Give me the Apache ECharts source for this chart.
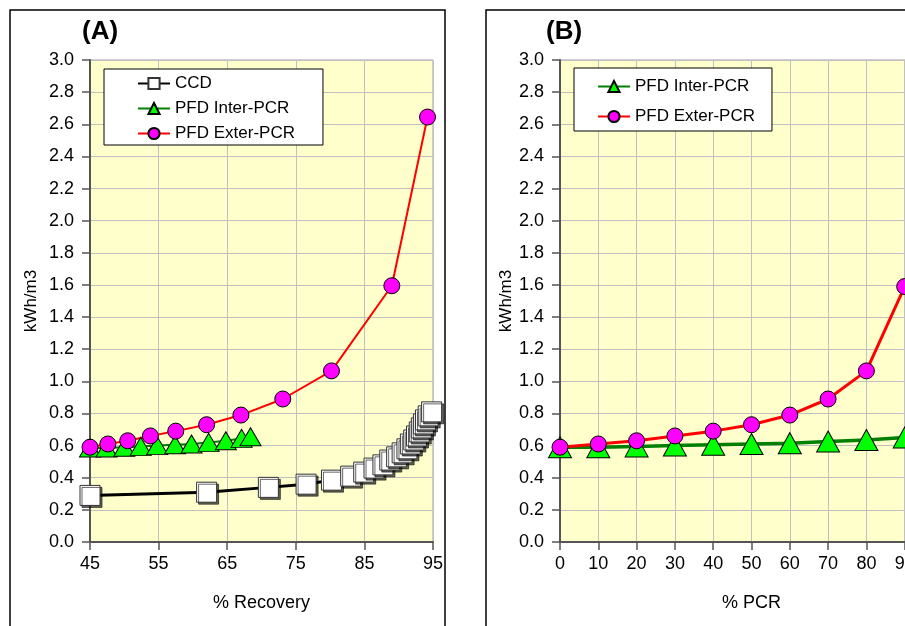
<!DOCTYPE html>
<html>
<head>
<meta charset="utf-8">
<script src="https://cdn.jsdelivr.net/npm/echarts@6/dist/echarts.min.js"></script>
<style>
  html, body { margin: 0; padding: 0; background: #fff; }
  #chart { width: 905px; height: 626px; }
</style>
</head>
<body>
<div id="chart"></div>
<script>
// panel (A): energy vs % recovery
var ccdRecovery = [45, 62, 71, 76.5, 80.2, 83, 84.9, 86.4, 87.7, 88.7, 89.7, 90.5, 91.2, 91.7, 92.2, 92.6, 93.0, 93.3, 93.6, 93.9, 94.3, 94.8];
var ccdEnergy = [0.29, 0.31, 0.34, 0.36, 0.385, 0.41, 0.435, 0.46, 0.48, 0.51, 0.53, 0.555, 0.58, 0.61, 0.635, 0.66, 0.685, 0.71, 0.735, 0.76, 0.785, 0.81];

var interRecovery = [45, 47.4, 50, 52.4, 54.8, 57.4, 59.8, 62.3, 64.8, 67.1, 68.4];
var interEnergyA = [0.585, 0.585, 0.59, 0.595, 0.6, 0.605, 0.61, 0.62, 0.63, 0.645, 0.655];

var exterRecovery = [45, 47.6, 50.5, 53.8, 57.5, 62.0, 67.0, 73.1, 80.2, 89.0, 94.2];
var exterEnergyA = [0.59, 0.61, 0.63, 0.66, 0.69, 0.73, 0.79, 0.89, 1.065, 1.595, 2.645];

// panel (B): energy vs % PCR
var pcr = [0, 10, 20, 30, 40, 50, 60, 70, 80, 90, 100];
var interEnergyB = [0.59, 0.59, 0.595, 0.6, 0.605, 0.61, 0.615, 0.625, 0.635, 0.65, 0.665];
var exterEnergyB = [0.59, 0.61, 0.63, 0.66, 0.69, 0.73, 0.79, 0.89, 1.065, 1.59, 2.64];

function zip(xs, ys) {
  var out = [];
  for (var i = 0; i < xs.length; i++) out.push([xs[i], ys[i]]);
  return out;
}

var font = "'Liberation Sans', Arial, sans-serif";
var axisDark = '#555';

function yAxisFor(gridIndex, gap) {
  return {
    type: 'value',
    gridIndex: gridIndex,
    min: 0, max: 3, interval: 0.2,
    name: 'kWh/m3',
    nameLocation: 'middle',
    nameGap: gap,
    nameTextStyle: { fontFamily: font, fontSize: 17, color: '#000' },
    axisLine: { show: true, lineStyle: { color: axisDark, width: 2 } },
    axisTick: { show: true, length: 8, lineStyle: { color: axisDark, width: 1.5 } },
    axisLabel: {
      margin: 16, fontFamily: font, fontSize: 18, color: '#000',
      formatter: function (v) { return v.toFixed(1); }
    },
    splitLine: { show: true, lineStyle: { color: '#c0c0c0', width: 1 } }
  };
}

function xAxisFor(gridIndex, min, max, name) {
  return {
    type: 'value',
    gridIndex: gridIndex,
    min: min, max: max, interval: 10,
    name: name,
    nameLocation: 'middle',
    nameGap: 52,
    nameTextStyle: { fontFamily: font, fontSize: 18, color: '#000' },
    axisLine: { show: true, onZero: false, lineStyle: { color: axisDark, width: 2 } },
    axisTick: { show: true, length: 8, lineStyle: { color: axisDark, width: 1.5 } },
    axisLabel: { margin: 13, fontFamily: font, fontSize: 18, color: '#000' },
    splitLine: { show: true, lineStyle: { color: '#c0c0c0', width: 1 } }
  };
}

var squareStyle = {
  color: '#fff', borderColor: '#333', borderWidth: 1,
  shadowColor: 'rgba(0,0,0,0.6)', shadowOffsetX: 2, shadowOffsetY: 2, shadowBlur: 0
};
var triStyle = { color: '#00ff00', borderColor: '#000', borderWidth: 1 };
var dotStyle = { color: '#ff00ff', borderColor: '#000', borderWidth: 1 };

var chart = echarts.init(document.getElementById('chart'), null, { renderer: 'canvas' });

var option = {
  animation: false,
  backgroundColor: '#fff',
  textStyle: { fontFamily: font },
  graphic: [
    { type: 'rect', shape: { x: 10, y: 10, width: 435, height: 640 },
      style: { fill: 'none', stroke: '#000', lineWidth: 1.5 }, silent: true },
    { type: 'rect', shape: { x: 486, y: 10, width: 450, height: 640 },
      style: { fill: 'none', stroke: '#000', lineWidth: 1.5 }, silent: true }
  ],
  title: [
    { text: '(A)', left: 77, top: 14, textStyle: { fontFamily: font, fontSize: 26, fontWeight: 'bold', color: '#000' } },
    { text: '(B)', left: 541, top: 14, textStyle: { fontFamily: font, fontSize: 26, fontWeight: 'bold', color: '#000' } }
  ],
  legend: [
    {
      orient: 'vertical', left: 104, top: 69,
      backgroundColor: '#fff', borderColor: '#000', borderWidth: 1,
      padding: [6, 28, 3, 33], itemGap: 8, itemWidth: 32, itemHeight: 14,
      textStyle: { fontFamily: font, fontSize: 17, color: '#000' },
      data: ['CCD', 'PFD Inter-PCR', 'PFD Exter-PCR']
    },
    {
      orient: 'vertical', left: 574, top: 68,
      backgroundColor: '#fff', borderColor: '#000', borderWidth: 1,
      padding: [10, 17, 6, 23], itemGap: 13, itemWidth: 32, itemHeight: 14,
      textStyle: { fontFamily: font, fontSize: 17, color: '#000' },
      data: ['PFD Inter-PCR', 'PFD Exter-PCR']
    }
  ],
  grid: [
    { left: 90, top: 60, width: 343, height: 482, show: true, outerBoundsMode: 'none',
      backgroundColor: '#ffffcc', borderColor: '#a0a0a0', borderWidth: 1, containLabel: false },
    { left: 560, top: 60, width: 383, height: 482, show: true, outerBoundsMode: 'none',
      backgroundColor: '#ffffcc', borderColor: '#a0a0a0', borderWidth: 1, containLabel: false }
  ],
  xAxis: [
    xAxisFor(0, 45, 95, '% Recovery'),
    xAxisFor(1, 0, 100, '% PCR')
  ],
  yAxis: [
    yAxisFor(0, 50),
    yAxisFor(1, 44)
  ],
  series: [
    {
      name: 'CCD', type: 'line', xAxisIndex: 0, yAxisIndex: 0, clip: false,
      symbol: 'rect', symbolSize: 20,
      lineStyle: { color: '#000', width: 3 }, itemStyle: squareStyle,
      data: zip(ccdRecovery, ccdEnergy)
    },
    {
      name: 'PFD Inter-PCR', type: 'line', xAxisIndex: 0, yAxisIndex: 0, clip: false,
      symbol: 'triangle', symbolSize: [21, 18],
      lineStyle: { color: '#008000', width: 2 }, itemStyle: triStyle,
      data: zip(interRecovery, interEnergyA)
    },
    {
      name: 'PFD Exter-PCR', type: 'line', xAxisIndex: 0, yAxisIndex: 0, clip: false,
      symbol: 'circle', symbolSize: 16,
      lineStyle: { color: '#ff0000', width: 2 }, itemStyle: dotStyle,
      data: zip(exterRecovery, exterEnergyA)
    },
    {
      name: 'PFD Inter-PCR', type: 'line', xAxisIndex: 1, yAxisIndex: 1, clip: false,
      symbol: 'triangle', symbolSize: [23, 21],
      lineStyle: { color: '#008000', width: 3.5 }, itemStyle: triStyle,
      data: zip(pcr, interEnergyB)
    },
    {
      name: 'PFD Exter-PCR', type: 'line', xAxisIndex: 1, yAxisIndex: 1, clip: false,
      symbol: 'circle', symbolSize: 16,
      lineStyle: { color: '#ff0000', width: 3 }, itemStyle: dotStyle,
      data: zip(pcr, exterEnergyB)
    }
  ]
};

chart.setOption(option);
</script>
</body>
</html>
